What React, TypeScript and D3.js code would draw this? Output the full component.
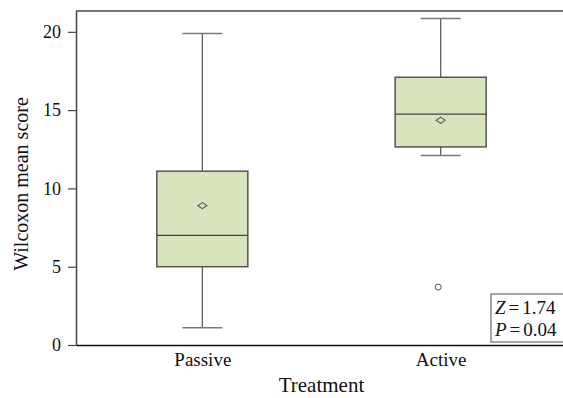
import React, { useEffect, useRef } from "react";
import * as d3 from "d3";

// values
const categories = ["Passive", "Active"];
const whiskerLow = [1.1, 12.1];
const q1 = [5.0, 12.65];
const median = [7.0, 14.75];
const mean = [8.9, 14.35];
const q3 = [11.1, 17.1];
const whiskerHigh = [19.9, 20.85];
const outliers = [[], [3.7]];
const yTicks = [0, 5, 10, 15, 20];
const statLines = [
  { name: "Z", value: "1.74" },
  { name: "P", value: "0.04" },
];

const W = 563;
const H = 398;

export default function App() {
  const svgRef = useRef<SVGSVGElement>(null);

  useEffect(() => {
    const svg = d3.select(svgRef.current);
    svg.selectAll("*").remove();

    const margin = { top: 11, left: 76, bottom: 53 };
    const plotRight = 567;
    const plotBottom = H - margin.bottom;

    const x = d3.scalePoint().domain(categories).range([margin.left, plotRight]).padding(0.53);
    const y = d3.scaleLinear().domain([0, 21.33]).range([plotBottom, margin.top]);

    const font = "'Liberation Serif', 'Times New Roman', serif";
    const textColor = "#111";
    const boxW = 91;
    const capW = 40;

    const data = categories.map((c, i) => ({
      cat: c,
      lo: whiskerLow[i],
      q1: q1[i],
      med: median[i],
      mean: mean[i],
      q3: q3[i],
      hi: whiskerHigh[i],
      out: outliers[i],
    }));

    // frame top line
    svg.append("line")
      .attr("x1", margin.left).attr("x2", plotRight)
      .attr("y1", margin.top).attr("y2", margin.top)
      .attr("stroke", "#777").attr("stroke-width", 2);

    const g = svg.append("g");

    const box = g.selectAll(".box").data(data).enter().append("g").attr("class", "box");

    // whiskers
    box.append("line")
      .attr("x1", d => x(d.cat)!).attr("x2", d => x(d.cat)!)
      .attr("y1", d => y(d.hi)).attr("y2", d => y(d.q3))
      .attr("stroke", "#555").attr("stroke-width", 1.2);
    box.append("line")
      .attr("x1", d => x(d.cat)!).attr("x2", d => x(d.cat)!)
      .attr("y1", d => y(d.q1)).attr("y2", d => y(d.lo))
      .attr("stroke", "#555").attr("stroke-width", 1.2);
    box.append("line")
      .attr("x1", d => x(d.cat)! - capW / 2).attr("x2", d => x(d.cat)! + capW / 2)
      .attr("y1", d => y(d.hi)).attr("y2", d => y(d.hi))
      .attr("stroke", "#777").attr("stroke-width", 1.5);
    box.append("line")
      .attr("x1", d => x(d.cat)! - capW / 2).attr("x2", d => x(d.cat)! + capW / 2)
      .attr("y1", d => y(d.lo)).attr("y2", d => y(d.lo))
      .attr("stroke", "#777").attr("stroke-width", 1.5);

    // boxes
    box.append("rect")
      .attr("x", d => x(d.cat)! - boxW / 2)
      .attr("width", boxW)
      .attr("y", d => y(d.q3))
      .attr("height", d => y(d.q1) - y(d.q3))
      .attr("fill", "#d8e4bd")
      .attr("stroke", "#555")
      .attr("stroke-width", 1.5);

    box.append("line")
      .attr("x1", d => x(d.cat)! - boxW / 2).attr("x2", d => x(d.cat)! + boxW / 2)
      .attr("y1", d => y(d.med)).attr("y2", d => y(d.med))
      .attr("stroke", "#444").attr("stroke-width", 1.3);

    // mean diamond
    box.append("path")
      .attr("d", d3.symbol(d3.symbolDiamond2, 30)())
      .attr("transform", d => `translate(${x(d.cat)},${y(d.mean)}) scale(1.3,0.9)`)
      .attr("fill", "none")
      .attr("stroke", "#555")
      .attr("stroke-width", 1);

    // outliers
    box.selectAll(".out")
      .data(d => d.out.map(v => ({ cat: d.cat, v })))
      .enter()
      .append("circle")
      .attr("cx", d => x(d.cat)! - 2.5)
      .attr("cy", d => y(d.v))
      .attr("r", 3)
      .attr("fill", "none")
      .attr("stroke", "#555")
      .attr("stroke-width", 1);

    // y axis
    const yAxis = svg.append("g")
      .attr("transform", `translate(${margin.left},0)`)
      .call(d3.axisLeft(y).tickValues(yTicks).tickSize(8).tickPadding(7).tickSizeOuter(0));
    yAxis.select(".domain").attr("stroke", "#444").attr("stroke-width", 1.5);
    yAxis.selectAll(".tick line").attr("stroke", "#444").attr("stroke-width", 1.2);
    yAxis.selectAll(".tick text")
      .attr("font-family", font).attr("font-size", 18).attr("fill", textColor);

    // x axis
    const xAxis = svg.append("g")
      .attr("transform", `translate(0,${plotBottom})`)
      .call(d3.axisBottom(x).tickSize(0).tickPadding(8).tickSizeOuter(0));
    xAxis.select(".domain").attr("stroke", "#111").attr("stroke-width", 1.5);
    xAxis.selectAll(".tick text")
      .attr("font-family", font).attr("font-size", 19).attr("fill", textColor)
      .attr("dy", "0.71em");

    // axis titles
    svg.append("text")
      .attr("x", (margin.left + plotRight) / 2)
      .attr("y", 392)
      .attr("text-anchor", "middle")
      .attr("font-family", font).attr("font-size", 21).attr("fill", textColor)
      .text("Treatment");

    svg.append("text")
      .attr("transform", `translate(28,${(margin.top + plotBottom) / 2 + 6}) rotate(-90)`)
      .attr("text-anchor", "middle")
      .attr("font-family", font).attr("font-size", 20).attr("fill", textColor)
      .text("Wilcoxon mean score");

    // stats box
    const sb = svg.append("g");
    sb.append("rect")
      .attr("x", 491).attr("y", 294)
      .attr("width", 90).attr("height", 48)
      .attr("fill", "white").attr("stroke", "#888").attr("stroke-width", 1.5);
    const st = sb.selectAll(".stat").data(statLines).enter().append("text")
      .attr("x", 495)
      .attr("y", (d, i) => 314 + i * 21.5)
      .attr("font-family", font).attr("font-size", 19).attr("fill", textColor);
    st.append("tspan").attr("font-style", "italic").text(d => d.name);
    st.append("tspan").attr("dx", 3).text("=");
    st.append("tspan").attr("dx", 3).text(d => d.value);
  }, []);

  return (
    <svg
      ref={svgRef}
      width={W}
      height={H}
      style={{ position: "absolute", left: 0, top: 0, background: "white" }}
    />
  );
}
